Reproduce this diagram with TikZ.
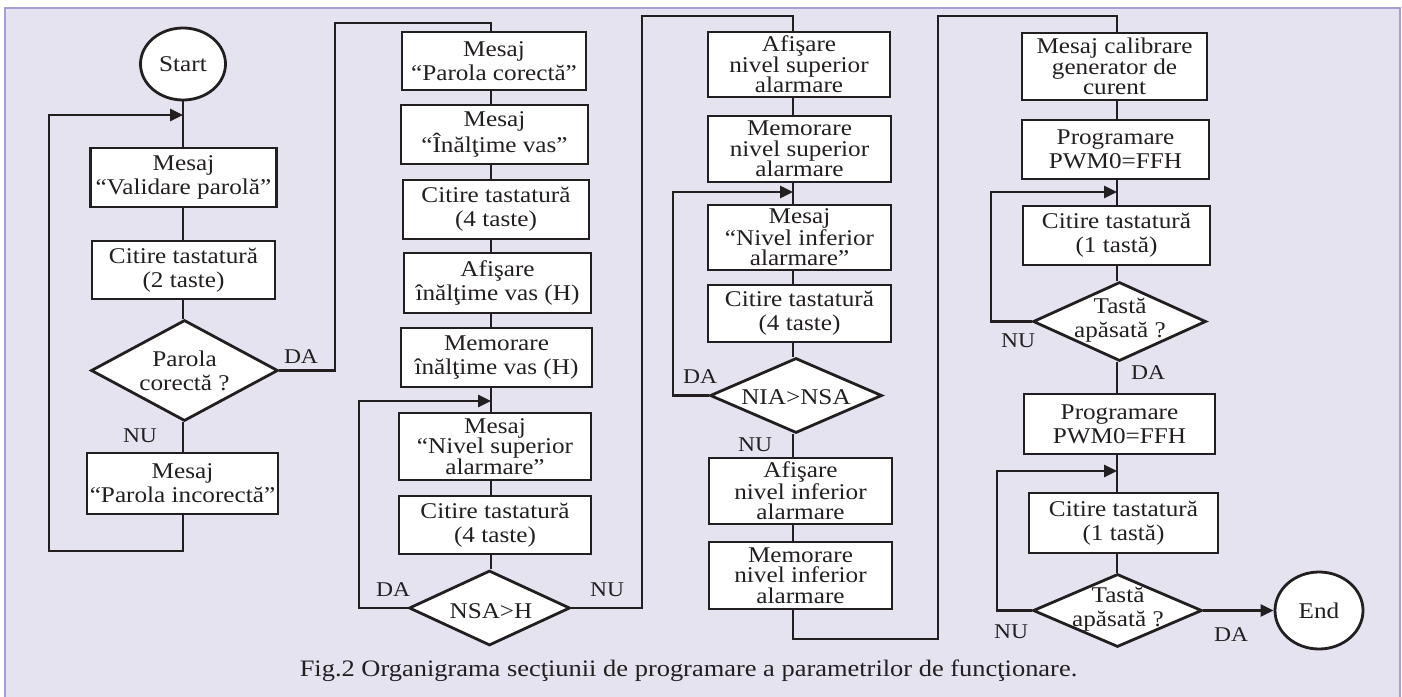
\documentclass[tikz,border=0pt]{standalone}
\usepackage{fontspec}
\setmainfont{Liberation Serif}[FakeStretch=1.12]
\usetikzlibrary{shapes.geometric,arrows.meta}
\definecolor{panel}{HTML}{E6E3F0}
\definecolor{frameline}{HTML}{A89CD9}
\definecolor{ink}{HTML}{231F20}

\begin{document}
\begin{tikzpicture}[x=1pt,y=-1pt,
  flow/.style={draw=ink, line width=2.8pt, fill=white, inner sep=0pt, align=center, text=ink},
  box/.style={flow, rectangle, font=\fontsize{22.5}{24}\selectfont},
  boxiii/.style={flow, rectangle, font=\fontsize{22.5}{20.5}\selectfont},
  term/.style={flow, ellipse, font=\fontsize{22.5}{24}\selectfont},
  cond/.style={flow, diamond},
  condtext/.style={inner sep=0pt, align=center, text=ink, font=\fontsize{22.5}{24}\selectfont},
  tag/.style={inner sep=0pt, text=ink, font=\fontsize{21}{21}\selectfont},
  link/.style={draw=ink, line width=2.8pt},
  back/.style={link, -{Triangle[length=13pt,width=12pt]}},
]
% page and panel
\useasboundingbox (0,0) rectangle (1402,696);
\fill[white] (0,0) rectangle (1402,696);
\fill[panel] (5,8) rectangle (1400,700);
\draw[frameline, line width=1.6pt] (5,700) -- (5,8) -- (1400,8) -- (1400,700);

% column axes
\coordinate (k1) at (183,0);
\coordinate (k2) at (491,0);
\coordinate (k3) at (793,0);
\coordinate (k4) at (1117,0);

% ---------- column 1: password check ----------
\node[term, minimum width=85pt, minimum height=72pt] (start) at (183,64) {Start};
\node[box, minimum width=186pt, minimum height=59pt] (b1) at (183.5,177.5) {Mesaj\\“Validare parolă”};
\node[box, minimum width=183pt, minimum height=58pt] (b2) at (183.5,270) {Citire tastatură\\(2 taste)};
\node[cond, minimum width=187pt, minimum height=101pt] (d1) at (184.5,370.5) {};
\node[condtext] (d1t) at (d1) {Parola\\corectă ?};
\node[box, minimum width=191pt, minimum height=61pt] (b3) at (182.5,483.5) {Mesaj\\“Parola incorectă”};

% ---------- column 2: vessel height and upper level ----------
\node[box, minimum width=184pt, minimum height=58pt] (c2b1) at (494,61) {Mesaj\\“Parola corectă”};
\node[box, minimum width=187pt, minimum height=59pt] (c2b2) at (494.5,134.5) {Mesaj\\“Înălţime vas”};
\node[box, minimum width=186pt, minimum height=59pt] (c2b3) at (496,209.5) {Citire tastatură\\(4 taste)};
\node[box, minimum width=187pt, minimum height=60pt] (c2b4) at (497.5,283) {Afişare\\înălţime vas (H)};
\node[box, minimum width=191pt, minimum height=59pt] (c2b5) at (496.5,357.5) {Memorare\\înălţime vas (H)};
\node[boxiii, minimum width=192pt, minimum height=67pt] (c2b6) at (495,446.5) {Mesaj\\“Nivel superior\\alarmare”};
\node[box, minimum width=192pt, minimum height=58pt] (c2b7) at (495,525) {Citire tastatură\\(4 taste)};
\node[cond, minimum width=161pt, minimum height=75pt] (d2) at (489.5,608) {};
\node[condtext] (d2t) at (491,611) {NSA>H};

% ---------- column 3: upper and lower alarm level ----------
\node[boxiii, minimum width=182pt, minimum height=65pt] (c3b1) at (799,64.5) {Afişare\\nivel superior\\alarmare};
\node[boxiii, minimum width=183pt, minimum height=66pt] (c3b2) at (799.5,149) {Memorare\\nivel superior\\alarmare};
\node[boxiii, minimum width=183pt, minimum height=65pt] (c3b3) at (799.5,237.5) {Mesaj\\“Nivel inferior\\alarmare”};
\node[box, minimum width=183pt, minimum height=57pt] (c3b4) at (799.5,313.5) {Citire tastatură\\(4 taste)};
\node[cond, minimum width=172pt, minimum height=75pt] (d3) at (796,395.5) {};
\node[condtext] (d3t) at (796,397) {NIA>NSA};
\node[boxiii, minimum width=183pt, minimum height=66pt] (c3b5) at (800.5,491) {Afişare\\nivel inferior\\alarmare};
\node[boxiii, minimum width=183pt, minimum height=67pt] (c3b6) at (800.5,575.5) {Memorare\\nivel inferior\\alarmare};

% ---------- column 4: current generator calibration ----------
\node[boxiii, minimum width=185pt, minimum height=67pt] (c4b1) at (1114.5,66.5) {Mesaj calibrare\\generator de\\curent};
\node[box, minimum width=187pt, minimum height=59pt] (c4b2) at (1115.5,149.5) {Programare\\PWM0=FFH};
\node[box, minimum width=187pt, minimum height=59pt] (c4b3) at (1116.5,235.5) {Citire tastatură\\(1 tastă)};
\node[cond, minimum width=173pt, minimum height=79pt] (d4) at (1119.5,321.5) {};
\node[condtext] (d4t) at (1120,320) {Tastă\\apăsată ?};
\node[box, minimum width=191pt, minimum height=60pt] (c4b4) at (1119.5,424) {Programare\\PWM0=FFH};
\node[box, minimum width=189pt, minimum height=60pt] (c4b5) at (1123.5,523) {Citire tastatură\\(1 tastă)};
\node[cond, minimum width=169pt, minimum height=73pt] (d5) at (1117.5,610.5) {};
\node[condtext] (d5t) at (1118,609) {Tastă\\apăsată ?};
\node[term, minimum width=88pt, minimum height=77pt] (end) at (1319,610.5) {End};

% ---------- merge points of the loops and column jumps ----------
\coordinate (m1) at (183,115);
\coordinate (m2) at (491,401);
\coordinate (m3) at (793,192);
\coordinate (m4) at (1117,192);
\coordinate (m5) at (1117,471);

% ---------- straight flow ----------
\draw[link] (start.south -| k1) -- (b1.north -| k1);
\draw[link] (b1.south -| k1) -- (b2.north -| k1);
\draw[link] (b2.south -| k1) -- (d1.north -| k1);
\draw[link] (d1.south -| k1) -- (b3.north -| k1);

\draw[link] (c2b1.south -| k2) -- (c2b2.north -| k2);
\draw[link] (c2b2.south -| k2) -- (c2b3.north -| k2);
\draw[link] (c2b3.south -| k2) -- (c2b4.north -| k2);
\draw[link] (c2b4.south -| k2) -- (c2b5.north -| k2);
\draw[link] (c2b5.south -| k2) -- (c2b6.north -| k2);
\draw[link] (c2b6.south -| k2) -- (c2b7.north -| k2);
\draw[link] (c2b7.south -| k2) -- (d2.north -| k2);

\draw[link] (c3b1.south -| k3) -- (c3b2.north -| k3);
\draw[link] (c3b2.south -| k3) -- (c3b3.north -| k3);
\draw[link] (c3b3.south -| k3) -- (c3b4.north -| k3);
\draw[link] (c3b4.south -| k3) -- (d3.north -| k3);
\draw[link] (d3.south -| k3) -- (c3b5.north -| k3);
\draw[link] (c3b5.south -| k3) -- (c3b6.north -| k3);

\draw[link] (c4b1.south -| k4) -- (c4b2.north -| k4);
\draw[link] (c4b2.south -| k4) -- (c4b3.north -| k4);
\draw[link] (c4b3.south -| k4) -- (d4.north -| k4);
\draw[link] (d4.south -| k4) -- (c4b4.north -| k4);
\draw[link] (c4b4.south -| k4) -- (c4b5.north -| k4);
\draw[link] (c4b5.south -| k4) -- (d5.north -| k4);

% ---------- column jumps ----------
\draw[link] (d1.east) -- (335,370.5) -- (335,23) -- (491,23) -- (c2b1.north -| k2);
\draw[link] (d2.east) -- (642,608) -- (642,16) -- (793,16) -- (c3b1.north -| k3);
\draw[link] (c3b6.south -| k3) -- (793,639) -- (938,639) -- (938,16) -- (1117,16) -- (c4b1.north -| k4);

% ---------- loops back ----------
\draw[back] (b3.south -| k1) -- (183,551) -- (49,551) -- (49,115) -- (m1);
\draw[back] (d2.west) -- (359,608) -- (359,401) -- (m2);
\draw[back] (d3.west) -- (673,395.5) -- (673,192) -- (m3);
\draw[back] (d4.west) -- (991,321.5) -- (991,192) -- (m4);
\draw[back] (d5.west) -- (997,610.5) -- (997,471) -- (m5);
\draw[back] (d5.east) -- (end.west);

% ---------- branch labels ----------
\node[tag] (l1da) at (301,357) {DA};
\node[tag] (l1nu) at (140,436) {NU};
\node[tag] (l2da) at (393,590) {DA};
\node[tag] (l2nu) at (607,590) {NU};
\node[tag] (l3da) at (700,377) {DA};
\node[tag] (l3nu) at (755,445) {NU};
\node[tag] (l4nu) at (1018,341) {NU};
\node[tag] (l4da) at (1148,373) {DA};
\node[tag] (l5nu) at (1011,632) {NU};
\node[tag] (l5da) at (1231,635) {DA};

% ---------- caption ----------
\node[inner sep=0pt, text=ink, font=\fontsize{23.6}{24}\selectfont] (cap) at (688.5,671)
  {Fig.2 Organigrama secţiunii de programare a parametrilor de funcţionare.};
\end{tikzpicture}
\end{document}
